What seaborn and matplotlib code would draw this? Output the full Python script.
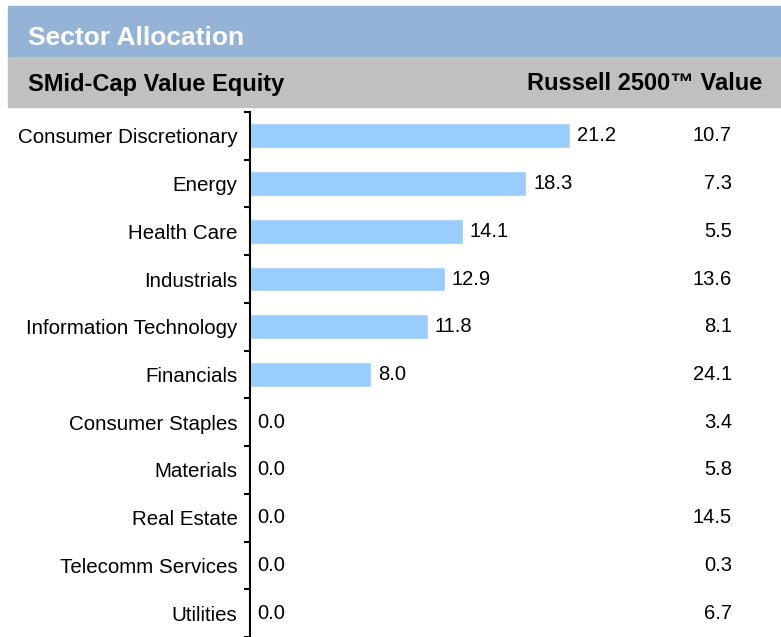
import numpy as np
import pandas as pd
import matplotlib.pyplot as plt
import seaborn as sns
from matplotlib.patches import Rectangle

sectors = ["Consumer Discretionary", "Energy", "Health Care", "Industrials",
           "Information Technology", "Financials", "Consumer Staples",
           "Materials", "Real Estate", "Telecomm Services", "Utilities"]
fund = [21.2, 18.3, 14.1, 12.9, 11.8, 8.0, 0.0, 0.0, 0.0, 0.0, 0.0]
bench = [10.7, 7.3, 5.5, 13.6, 8.1, 24.1, 3.4, 5.8, 14.5, 0.3, 6.7]

df = pd.DataFrame({"Sector": sectors, "Fund": fund, "Bench": bench})

sns.set_style("white")
plt.rcParams["font.family"] = ["Liberation Sans", "DejaVu Sans"]
plt.rcParams["text.color"] = "black"
plt.rcParams["ytick.color"] = "black"
plt.rcParams["ytick.labelcolor"] = "black"

fig = plt.figure(figsize=(7.81, 6.37), dpi=100)
ax = fig.add_axes([250 / 781, 0, 1 - 250 / 781, 1 - 112 / 637])

sns.barplot(data=df, y="Sector", x="Fund", orient="h", color="#99CCFF",
            saturation=1, width=0.52, ax=ax)
ax.bar_label(ax.containers[0], fmt="%.1f", padding=5, fontsize=14.5, color="black")

# benchmark column on the right
for i, v in enumerate(bench):
    ax.text(31.95, i, f"{v:.1f}", ha="right", va="center", fontsize=14.5, color="black")

ax.set_xlim(0, 35.2)
ax.set_ylim(len(sectors) - 0.5, -0.5)
ax.set_xlabel("")
ax.set_ylabel("")
ax.set_xticks([])
for s in ["top", "right", "bottom"]:
    ax.spines[s].set_visible(False)
ax.spines["left"].set_color("black")
ax.spines["left"].set_linewidth(1.5)

ax.set_yticks(np.arange(-0.5, len(sectors), 1.0), minor=True)
ax.tick_params(axis="y", which="major", length=0, pad=9, labelsize=14.8,
               labelcolor="black")
ax.tick_params(axis="y", which="minor", length=4, width=1.5, color="black", left=True)

# header bands
fig.patches.append(Rectangle((8 / 781, 1 - 57 / 637), 1, 51 / 637,
                             transform=fig.transFigure, color="#95B3D7", zorder=0))
fig.patches.append(Rectangle((8 / 781, 1 - 107 / 637), 1, 50 / 637,
                             transform=fig.transFigure, color="#C0C0C0", zorder=0))
fig.text(28 / 781, 1 - 38 / 637, "Sector Allocation", color="white",
         fontsize=19, fontweight="bold", va="center", ha="left")
fig.text(28 / 781, 1 - 84 / 637, "SMid-Cap Value Equity", color="black",
         fontsize=17, fontweight="bold", va="center", ha="left")
fig.text(762 / 781, 1 - 84 / 637, "Russell 2500\u2122 Value", color="black",
         fontsize=17, fontweight="bold", va="center", ha="right")

fig.savefig("out.png", dpi=100)
